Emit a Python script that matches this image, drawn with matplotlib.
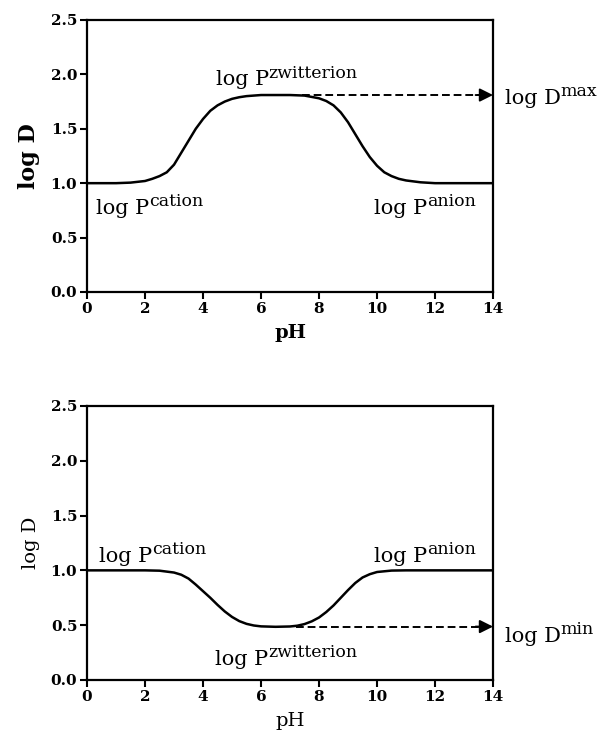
import matplotlib
matplotlib.use("Agg")
import matplotlib.pyplot as plt

plt.rcParams["font.family"] = ["DejaVu Serif"]

# 데이터
ph_top = [0, 1, 1.5, 2, 2.25, 2.5, 2.75, 3, 3.25, 3.5, 3.75, 4, 4.25, 4.5, 4.75, 5, 5.25,
          5.5, 6, 7, 7.5, 8, 8.25, 8.5, 8.75, 9, 9.25, 9.5, 9.75, 10, 10.25, 10.5,
          10.75, 11, 11.5, 12, 13, 14]
logd_top = [1.0, 1.0, 1.005, 1.02, 1.04, 1.065, 1.1, 1.17, 1.28, 1.39, 1.5, 1.59, 1.665,
            1.715, 1.75, 1.775, 1.79, 1.80, 1.81, 1.81, 1.805, 1.78, 1.755, 1.715, 1.65,
            1.56, 1.45, 1.34, 1.24, 1.16, 1.10, 1.065, 1.04, 1.025, 1.008, 1.0, 1.0, 1.0]

ph_bot = [0, 1, 2, 2.5, 3, 3.25, 3.5, 3.75, 4, 4.25, 4.5, 4.75, 5, 5.25, 5.5, 5.75,
          6, 6.5, 7, 7.25, 7.5, 7.75, 8, 8.25, 8.5, 8.75, 9, 9.25, 9.5, 9.75, 10,
          10.5, 11, 12, 13, 14]
logd_bot = [1.0, 1.0, 1.0, 0.997, 0.98, 0.96, 0.925, 0.87, 0.81, 0.75, 0.685, 0.625,
            0.575, 0.537, 0.512, 0.497, 0.489, 0.485, 0.488, 0.495, 0.51, 0.535, 0.57,
            0.62, 0.68, 0.75, 0.82, 0.885, 0.935, 0.965, 0.985, 0.998, 1.0, 1.0, 1.0, 1.0]

# 화살표 (pH 시작/끝, logD)
arrow_top = (7.4, 14.0, 1.81)
arrow_bot = (7.2, 14.0, 0.487)

xticks = [0, 2, 4, 6, 8, 10, 12, 14]
yticks = [0.0, 0.5, 1.0, 1.5, 2.0, 2.5]

# 라벨: (본문, 위첨자, pH, logD)
labels_top = [("log P", "zwitterion", 4.43, 1.90),
              ("log P", "cation", 0.3, 0.72),
              ("log P", "anion", 9.9, 0.72),
              ("log D", "max", 14.4, 1.73)]
labels_bot = [("log P", "cation", 0.4, 1.08),
              ("log P", "anion", 9.9, 1.08),
              ("log P", "zwitterion", 4.4, 0.14),
              ("log D", "min", 14.4, 0.35)]

fig = plt.figure(figsize=(6.09, 7.42), dpi=100)
ax1 = fig.add_axes([0.1429, 0.6065, 0.6667, 0.3666])
ax2 = fig.add_axes([0.1429, 0.0836, 0.6667, 0.3693])


def style(ax):
    ax.set_xlim(0, 14)
    ax.set_ylim(0, 2.5)
    ax.set_xticks(xticks)
    ax.set_xticklabels([str(t) for t in xticks])
    ax.set_yticks(yticks)
    ax.set_yticklabels([f"{t:.1f}" for t in yticks])
    for s in ax.spines.values():
        s.set_linewidth(1.6)
    ax.tick_params(direction="out", length=5, width=1.5, labelsize=11, pad=2)
    for lab in ax.get_xticklabels() + ax.get_yticklabels():
        lab.set_fontweight("bold")


def arrow(ax, a):
    x0, x1, y = a
    ax.plot([x0, x1 - 0.5], [y, y], color="black", lw=1.4, ls=(0, (4, 2)))
    ax.annotate("", xy=(x1, y), xytext=(x1 - 0.6, y),
                arrowprops=dict(arrowstyle="-|>", color="black", lw=1.4,
                                mutation_scale=20, shrinkA=0, shrinkB=0),
                annotation_clip=False)


def label(ax, base, sup, x, y):
    t = ax.text(x, y, base, fontsize=15, clip_on=False)
    ax.annotate(sup, xy=(1.0, 0.6), xycoords=t, fontsize=12.5,
                va="baseline", ha="left", annotation_clip=False)


# (위) 최대값
ax1.plot(ph_top, logd_top, color="black", lw=1.8)
arrow(ax1, arrow_top)
style(ax1)
ax1.set_ylabel("log D", fontsize=16, fontweight="bold", labelpad=8)
ax1.set_xlabel("pH", fontsize=14, fontweight="bold", labelpad=6)
for lb in labels_top:
    label(ax1, *lb)

# (아래) 최소값
ax2.plot(ph_bot, logd_bot, color="black", lw=1.8)
arrow(ax2, arrow_bot)
style(ax2)
ax2.set_ylabel("log D", fontsize=14, labelpad=8)
ax2.set_xlabel("pH", fontsize=14, labelpad=6)
for lb in labels_bot:
    label(ax2, *lb)

fig.savefig("out.png", dpi=100)
